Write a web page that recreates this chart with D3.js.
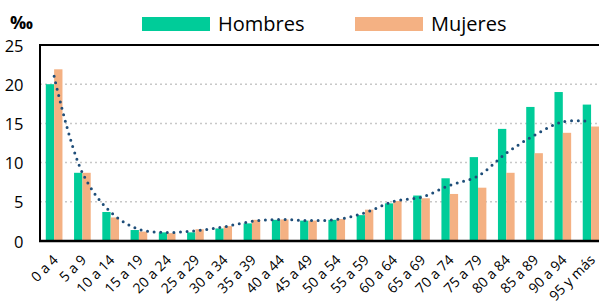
<!DOCTYPE html>
<html>
<head>
<meta charset="utf-8">
<script src="https://cdn.jsdelivr.net/npm/d3@7"></script>
<style>
  body { margin: 0; background: #fff; }
  text { font-family: "Open Sans", sans-serif; fill: #000; }
</style>
</head>
<body>
<div id="vis"></div>
<script>
// data (‰)
const grupos = ["0 a 4", "5 a 9", "10 a 14", "15 a 19", "20 a 24", "25 a 29", "30 a 34", "35 a 39",
    "40 a 44", "45 a 49", "50 a 54", "55 a 59", "60 a 64", "65 a 69", "70 a 74", "75 a 79",
    "80 a 84", "85 a 89", "90 a 94", "95 y más"];
const hombres = [20.0, 8.7, 3.7, 1.4, 1.1, 1.1, 1.6, 2.25, 2.7, 2.6, 2.7, 3.3, 4.8, 5.8, 8.0, 10.7, 14.3, 17.1, 19.0, 17.4];
const mujeres = [21.9, 8.7, 3.0, 1.2, 1.0, 1.5, 1.9, 2.7, 2.75, 2.6, 2.8, 4.0, 5.1, 5.45, 6.0, 6.8, 8.7, 11.2, 13.8, 14.6];
const tendencia = [21.0, 8.7, 3.7, 1.5, 1.1, 1.3, 1.8, 2.5, 2.75, 2.6, 2.75, 3.6, 5.05, 5.6, 7.1, 8.3, 11.2, 13.5, 15.2, 15.3];
const yTicks = [0, 5, 10, 15, 20, 25];
const series = ["Hombres", "Mujeres"];

const width = 599, height = 305;
const plotLeft = 40, plotTop = 45, plotBottom = 241;
const colors = { Hombres: "#00cc99", Mujeres: "#f4b183" };

const svg = d3.select("#vis")
    .append("svg")
    .attr("width", width)
    .attr("height", height);

const x = d3.scaleBand()
    .domain(grupos)
    .range([plotLeft, plotLeft + 20 * 28.26])
    .paddingInner(0.41)
    .paddingOuter(0.205);

const xSub = d3.scaleBand()
    .domain(series)
    .range([0, x.bandwidth()]);

const y = d3.scaleLinear()
    .domain([0, 25])
    .range([plotBottom, plotTop]);

// gridlines
svg.append("g")
    .selectAll("line")
    .data(yTicks.filter(d => d > 0 && d < 25))
    .enter()
    .append("line")
    .attr("x1", plotLeft)
    .attr("x2", width)
    .attr("y1", d => y(d))
    .attr("y2", d => y(d))
    .style("stroke", "#c8c8c8")
    .style("stroke-width", 1.5)
    .style("stroke-dasharray", "2,3");

// bars
const groups = svg.append("g")
    .selectAll("g")
    .data(grupos)
    .enter()
    .append("g")
    .attr("transform", d => `translate(${x(d)},0)`);

groups.append("rect")
    .attr("x", xSub("Hombres"))
    .attr("width", xSub.bandwidth())
    .attr("y", (d, i) => y(hombres[i]))
    .attr("height", (d, i) => plotBottom - y(hombres[i]))
    .attr("fill", colors.Hombres);

groups.append("rect")
    .attr("x", xSub("Mujeres"))
    .attr("width", xSub.bandwidth())
    .attr("y", (d, i) => y(mujeres[i]))
    .attr("height", (d, i) => plotBottom - y(mujeres[i]))
    .attr("fill", colors.Mujeres);

// trend line (dotted)
const line = d3.line()
    .x((d, i) => x(grupos[i]) + x.bandwidth() / 2 - (i === grupos.length - 1 ? 6 : 0))
    .y(d => y(d))
    .curve(d3.curveCatmullRom);

svg.append("path")
    .datum(tendencia)
    .attr("d", line)
    .attr("fill", "none")
    .style("stroke", "#1f4e79")
    .style("stroke-width", 3)
    .style("stroke-linecap", "round")
    .style("stroke-dasharray", "0,6.6");

// frame: top, left, bottom
svg.append("line")
    .attr("x1", plotLeft).attr("x2", width)
    .attr("y1", plotTop).attr("y2", plotTop)
    .style("stroke", "#000").style("stroke-width", 2);

svg.append("line")
    .attr("x1", plotLeft).attr("x2", plotLeft)
    .attr("y1", plotTop - 1).attr("y2", plotBottom + 1)
    .style("stroke", "#000").style("stroke-width", 2);

svg.append("line")
    .attr("x1", plotLeft - 1).attr("x2", width)
    .attr("y1", plotBottom).attr("y2", plotBottom)
    .style("stroke", "#000").style("stroke-width", 2.5);

// y labels
svg.append("g")
    .selectAll("text")
    .data(yTicks)
    .enter()
    .append("text")
    .attr("x", 23.5)
    .attr("y", d => y(d))
    .attr("text-anchor", "end")
    .attr("dominant-baseline", "central")
    .style("font-size", "16.5px")
    .text(d => d);

svg.append("text")
    .attr("x", 10)
    .attr("y", 29)
    .style("font-size", "18px")
    .style("font-weight", "bold")
    .text("‰");

// x labels
svg.append("g")
    .selectAll("text")
    .data(grupos)
    .enter()
    .append("text")
    .attr("transform", d => `translate(${x(d) + x.bandwidth() / 2 + 1},${plotBottom + 16}) rotate(-45)`)
    .attr("text-anchor", "end")
    .attr("dominant-baseline", "central")
    .style("font-size", "14px")
    .text(d => d);

// legend
const legend = svg.append("g");
const legendX = { Hombres: 142, Mujeres: 355 };

series.forEach(s => {
    legend.append("rect")
        .attr("x", legendX[s])
        .attr("y", 17)
        .attr("width", 68)
        .attr("height", 14)
        .attr("fill", colors[s]);

    legend.append("text")
        .attr("x", legendX[s] + 76)
        .attr("y", 30.5)
        .style("font-size", "20px")
        .text(s);
});
</script>
</body>
</html>
